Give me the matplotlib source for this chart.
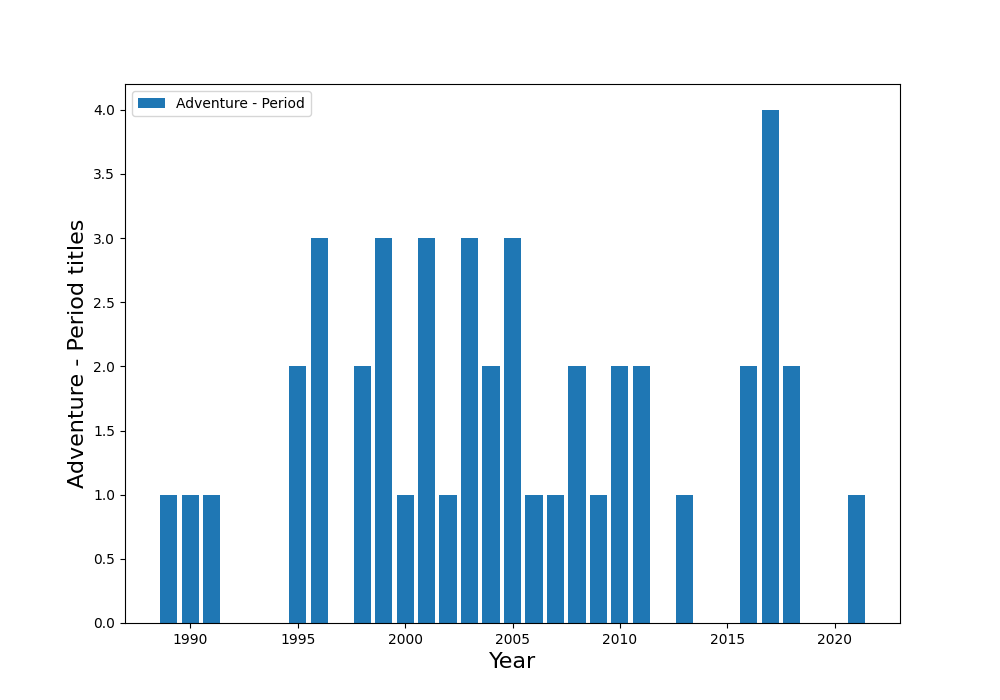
import matplotlib
matplotlib.use('Agg')
import matplotlib.pyplot as plt

#Release years and number of titles per year
years = [1989, 1990, 1991, 1995, 1996, 1998, 1999, 2000, 2001, 2002, 2003, 2004,
         2005, 2006, 2007, 2008, 2009, 2010, 2011, 2013, 2016, 2017, 2018, 2021]
titles = [1, 1, 1, 2, 3, 2, 3, 1, 3, 1, 3, 2,
          3, 1, 1, 2, 1, 2, 2, 1, 2, 4, 2, 1]
genre = 'Adventure - Period'

fig, ax = plt.subplots(figsize=(10, 7))
ax.bar(years, titles, label=genre)
ax.set_xlabel('Year', fontsize=16)
ax.set_ylabel(f'{genre} titles', fontsize=16)
ax.legend(loc='upper left')

plt.savefig('out.png', dpi=100)
